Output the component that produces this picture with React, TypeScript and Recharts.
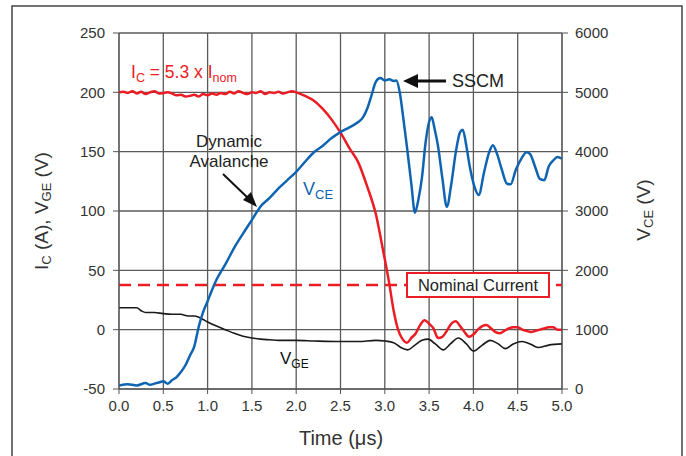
import React from 'react'
import { ComposedChart, Line, XAxis, YAxis, CartesianGrid, ReferenceLine } from 'recharts'

// axis ticks
const TIME_TICKS = [0, 0.5, 1, 1.5, 2, 2.5, 3, 3.5, 4, 4.5, 5]
const LEFT_TICKS = [-50, 0, 50, 100, 150, 200, 250]
const RIGHT_TICKS = [0, 1000, 2000, 3000, 4000, 5000, 6000]

const NOMINAL_CURRENT = 37.7

// collector current I_C (A)
const icTime = [
  0, 0.05, 0.1, 0.15, 0.2, 0.25, 0.3, 0.35, 0.4, 0.45, 0.5, 0.55, 0.6, 0.65, 0.7, 0.75, 0.8, 0.85, 0.9, 0.95,
  1.0, 1.05, 1.1, 1.15, 1.2, 1.25, 1.3, 1.35, 1.4, 1.45, 1.5, 1.55, 1.6, 1.65, 1.7, 1.75, 1.8, 1.85, 1.9, 1.95,
  2.0, 2.1, 2.2, 2.3, 2.4, 2.5, 2.6, 2.7, 2.8, 2.9, 2.98, 3.05, 3.1, 3.15, 3.2, 3.25, 3.3, 3.35, 3.4, 3.45,
  3.5, 3.55, 3.6, 3.65, 3.7, 3.75, 3.8, 3.85, 3.9, 3.95, 4.0, 4.05, 4.1, 4.15, 4.2, 4.25, 4.3, 4.35, 4.4, 4.45,
  4.5, 4.55, 4.6, 4.65, 4.7, 4.75, 4.8, 4.85, 4.9, 4.95, 5.0,
]
const icAmps = [
  200, 200.5, 199.5, 201, 199, 200.5, 198.5, 200, 201, 199, 199.5, 200, 199, 197.5, 198, 196.5, 197, 198, 196.5, 198.5,
  197.5, 199, 198, 199.5, 198.5, 200.5, 199, 201, 199.5, 198.5, 200, 199.5, 201, 198.5, 200, 199.5, 200.5, 199, 200, 201,
  200, 197, 193, 186, 177, 166, 153, 141, 121, 97, 67, 39, 16, 0, -8, -11, -7, -3, 4, 8,
  5, 1, -7, -6, -1, 5, 7, 3, -2, -6, -4, 0, 3, 4, 1, -2, -3, -1, 1, 2,
  2, 0, -1, -2, -1, 0, 1, 2, 2, 0, 0,
]

// collector-emitter voltage V_CE (V)
const vceTime = [
  0, 0.1, 0.2, 0.3, 0.35, 0.4, 0.45, 0.5, 0.55, 0.6, 0.65, 0.7, 0.75, 0.8, 0.85, 0.9, 0.95, 1.0, 1.05, 1.1,
  1.2, 1.3, 1.4, 1.5, 1.6, 1.7, 1.8, 1.9, 2.0, 2.1, 2.2, 2.3, 2.4, 2.5, 2.6, 2.7, 2.75, 2.8, 2.85, 2.9,
  2.95, 3.0, 3.05, 3.1, 3.13, 3.17, 3.21, 3.25, 3.3, 3.34, 3.38, 3.42, 3.46, 3.5, 3.53, 3.56, 3.6, 3.65, 3.7, 3.75,
  3.8, 3.85, 3.88, 3.92, 3.96, 4.01, 4.06, 4.12, 4.18, 4.22, 4.27, 4.32, 4.38, 4.42, 4.48, 4.54, 4.6, 4.64, 4.7, 4.75,
  4.8, 4.85, 4.9, 4.95, 5.0,
]
const vceVolts = [
  60, 80, 60, 100, 70, 90, 110, 130, 90, 150, 200, 290, 400, 560, 720, 1050, 1300, 1480, 1670, 1840,
  2100, 2380, 2620, 2850, 3080, 3220, 3380, 3520, 3660, 3830, 3990, 4100, 4230, 4330, 4410, 4500, 4570, 4720, 4950, 5180,
  5240, 5200, 5220, 5190, 5200, 4990, 4550, 4080, 3450, 2970, 3200, 3570, 4150, 4500, 4580, 4400, 4100, 3550, 3070, 3450,
  3980, 4330, 4370, 4100, 3740, 3420, 3270, 3650, 4000, 4110, 3950, 3700, 3460, 3450, 3700, 3880, 3990, 3960, 3730, 3540,
  3520, 3750, 3850, 3910, 3880,
]

// gate-emitter voltage V_GE (V)
const vgeTime = [
  0, 0.1, 0.2, 0.25, 0.3, 0.4, 0.5, 0.6, 0.7, 0.75, 0.8, 0.85, 0.9, 0.95, 1.0, 1.1, 1.2, 1.3, 1.4, 1.5,
  1.6, 1.7, 1.8, 2.0, 2.2, 2.5, 2.7, 2.9, 3.0, 3.1, 3.18, 3.26, 3.34, 3.42, 3.49, 3.57, 3.66, 3.74, 3.83, 3.92,
  4.0, 4.1, 4.19, 4.28, 4.36, 4.45, 4.55, 4.64, 4.73, 4.85, 5.0,
]
const vgeVolts = [
  18.5, 18.5, 18.5, 16, 14.5, 14.5, 13.5, 13, 13, 12, 11.5, 11.5, 10.5, 8.5, 6.5, 3, 0, -3, -5.5, -7,
  -8, -8.5, -9, -9, -9.5, -10, -10, -9, -9.5, -11, -15, -17, -13, -9, -8, -12, -17, -12, -7, -12,
  -18, -13, -9, -12, -16, -12, -10, -12, -15, -13, -12,
]

const icData = icTime.map((t, i) => ({ t, ic: icAmps[i] }))
const vceData = vceTime.map((t, i) => ({ t, vce: vceVolts[i] }))
const vgeData = vgeTime.map((t, i) => ({ t, vge: vgeVolts[i] }))

const RED = '#ec1c24'
const BLUE = '#0f64b2'
const FONT = '"Liberation Sans", Arial, Helvetica, sans-serif'
const TICK = { fill: '#333', fontSize: 15, fontFamily: FONT }

export default function App() {
  return (
    <div style={{ position: 'absolute', left: 0, top: 0, width: 686, height: 456, background: '#fff', overflow: 'hidden' }}>
      <ComposedChart width={686} height={456} margin={{ top: 33, right: 0, left: 0, bottom: 0 }} style={{ fontFamily: FONT }}>
        <CartesianGrid yAxisId="left" stroke="#5a5a5a" strokeWidth={1.3} />
        <XAxis
          dataKey="t"
          type="number"
          domain={[0, 5]}
          ticks={TIME_TICKS}
          tickFormatter={(v: number) => v.toFixed(1)}
          height={67}
          tick={TICK}
          tickSize={5}
          tickMargin={6}
          stroke="#555"
          allowDataOverflow
        />
        <YAxis
          yAxisId="left"
          domain={[-50, 250]}
          ticks={LEFT_TICKS}
          width={119}
          tick={TICK}
          tickSize={6}
          tickMargin={8}
          stroke="#555"
        />
        <YAxis
          yAxisId="right"
          orientation="right"
          domain={[0, 6000]}
          ticks={RIGHT_TICKS}
          width={124}
          tick={TICK}
          tickSize={6}
          tickMargin={7}
          stroke="#555"
        />
        <ReferenceLine yAxisId="left" y={NOMINAL_CURRENT} stroke={RED} strokeWidth={2.5} strokeDasharray="12 7" />
        <Line yAxisId="left" data={vgeData} dataKey="vge" stroke="#1a1a1a" strokeWidth={1.6} dot={false} isAnimationActive={false} type="monotone" />
        <Line yAxisId="left" data={icData} dataKey="ic" stroke={RED} strokeWidth={2.5} dot={false} isAnimationActive={false} type="monotone" />
        <Line yAxisId="right" data={vceData} dataKey="vce" stroke={BLUE} strokeWidth={2.5} dot={false} isAnimationActive={false} type="monotone" />
      </ComposedChart>

      {/* annotations, titles and frame */}
      <svg width={686} height={456} style={{ position: 'absolute', left: 0, top: 0, pointerEvents: 'none', fontFamily: FONT }}>
        <rect x={12} y={6} width={670} height={470} fill="none" stroke="#444" strokeWidth={1.5} />

        <text x={131} y={78} fill={RED} fontSize={17.5}>
          I<tspan fontSize={12.5} dy={4}>C</tspan>
          <tspan dy={-4}> = 5.3 x I</tspan>
          <tspan fontSize={12.5} dy={4}>nom</tspan>
        </text>

        <text x={452} y={87} fill="#222" fontSize={18}>SSCM</text>
        <line x1={446} y1={81} x2={416} y2={81} stroke="#111" strokeWidth={3} />
        <polygon points="403,81 418,74 418,88" fill="#111" />

        <text x={229} y={147} fill="#222" fontSize={17} textAnchor="middle">Dynamic</text>
        <text x={229} y={167} fill="#222" fontSize={17} textAnchor="middle">Avalanche</text>
        <line x1={223} y1={174} x2={249} y2={199} stroke="#111" strokeWidth={2} />
        <polygon points="257,207 243,200 251,192" fill="#111" />

        <text x={303} y={195} fill={BLUE} fontSize={18}>
          V<tspan fontSize={13} dy={4}>CE</tspan>
        </text>
        <text x={280} y={364} fill="#111" fontSize={17}>
          V<tspan fontSize={12} dy={4}>GE</tspan>
        </text>

        <rect x={407} y={273} width={142} height={24} fill="#fff" stroke={RED} strokeWidth={2} />
        <text x={478} y={291} fill="#222" fontSize={16.5} textAnchor="middle">Nominal Current</text>

        <text x={341} y={445} fill="#333" fontSize={20} textAnchor="middle">Time (μs)</text>

        <text transform="translate(48,211) rotate(-90)" fill="#333" fontSize={19} textAnchor="middle">
          I<tspan fontSize={13} dy={3}>C</tspan>
          <tspan dy={-3}> (A), V</tspan>
          <tspan fontSize={13} dy={3}>GE</tspan>
          <tspan dy={-3}> (V)</tspan>
        </text>
        <text transform="translate(650,210) rotate(-90)" fill="#333" fontSize={19} textAnchor="middle">
          V<tspan fontSize={13} dy={3}>CE</tspan>
          <tspan dy={-3}> (V)</tspan>
        </text>
      </svg>
    </div>
  )
}
